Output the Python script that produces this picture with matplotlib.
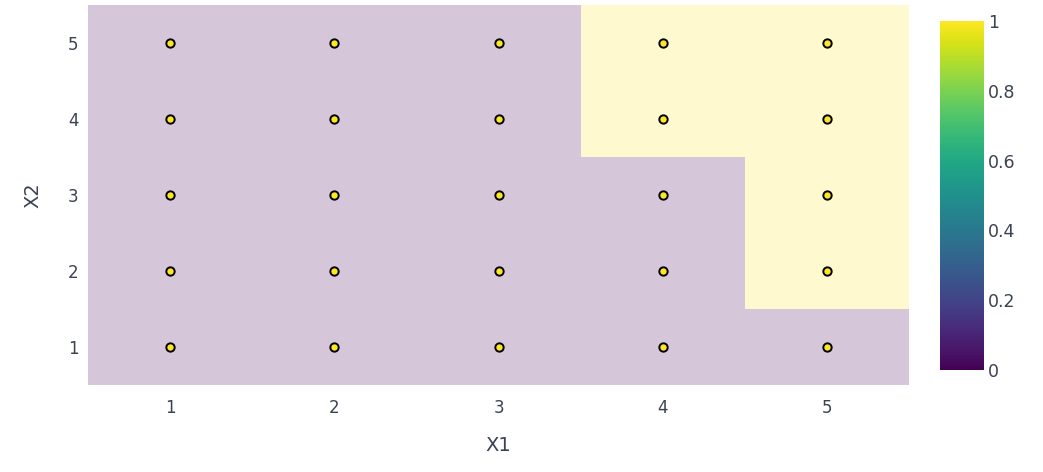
import numpy as np
import matplotlib
matplotlib.use("Agg")
from matplotlib import pyplot as plt
from matplotlib import cm, colors

plt.rcParams['font.family'] = ['DejaVu Sans']

# datos de la rejilla
x1 = [1, 2, 3, 4, 5]
x2 = [1, 2, 3, 4, 5]
# clase predicha (filas = X2 de 1 a 5, columnas = X1 de 1 a 5)
z = [[0, 0, 0, 0, 0],
     [0, 0, 0, 0, 1],
     [0, 0, 0, 0, 1],
     [0, 0, 0, 1, 1],
     [0, 0, 0, 1, 1]]
# puntos de entrenamiento
pts_x1 = [1, 1, 1, 1, 1, 2, 2, 2, 2, 2, 3, 3, 3, 3, 3, 4, 4, 4, 4, 4, 5, 5, 5, 5, 5]
pts_x2 = [1, 2, 3, 4, 5, 1, 2, 3, 4, 5, 1, 2, 3, 4, 5, 1, 2, 3, 4, 5, 1, 2, 3, 4, 5]
cbar_ticks = [0, 0.2, 0.4, 0.6, 0.8, 1]

txt = '#3b4252'

fig = plt.figure(figsize=(10.43, 4.72), dpi=100)
ax = fig.add_axes([88/1043, 1-385/472, (909-88)/1043, (385-5)/472])
cax = fig.add_axes([940/1043, 1-370/472, 44/1043, (370-21)/472])

norm = colors.Normalize(vmin=0, vmax=1)
ax.pcolormesh(x1, x2, np.array(z), cmap='viridis', norm=norm, alpha=0.22,
              shading='nearest', edgecolors='none')
ax.scatter(pts_x1, pts_x2, s=36, c='#fde725', edgecolors='black', linewidths=1.4, zorder=3)

ax.set_xlim(0.5, 5.5)
ax.set_ylim(0.5, 5.5)
ax.set_xticks(x1)
ax.set_yticks(x2)
for s in ax.spines.values():
    s.set_visible(False)
ax.tick_params(length=0, labelsize=12, colors=txt)
ax.tick_params(axis='x', pad=10)
ax.tick_params(axis='y', pad=7)
ax.set_xlabel('X1', fontsize=14, color=txt, labelpad=14)
ax.set_ylabel('X2', fontsize=14, color=txt, labelpad=18)

cb = fig.colorbar(cm.ScalarMappable(norm=norm, cmap='viridis'), cax=cax, ticks=cbar_ticks)
cb.outline.set_visible(False)
cb.ax.set_yticklabels(['0', '0.2', '0.4', '0.6', '0.8', '1'])
cb.ax.tick_params(length=0, labelsize=12.5, colors=txt, pad=3)

fig.savefig('out.png', dpi=100)
